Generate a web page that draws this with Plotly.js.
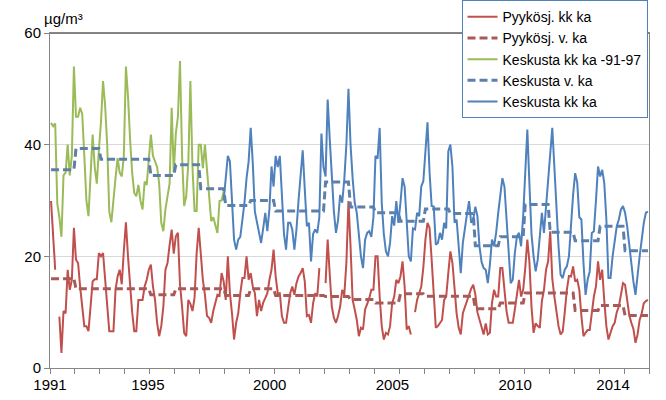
<!DOCTYPE html>
<html><head><meta charset="utf-8">
<script src="https://cdn.plot.ly/plotly-3.0.1.min.js"></script>
<style>html,body{margin:0;padding:0;background:#fff;}#chart{width:666px;height:400px;}</style>
</head><body><div id="chart"></div>
<script>
const firstYear = 1991;
const years = [1991,1992,1993,1994,1995,1996,1997,1998,1999,2000,2001,2002,2003,2004,2005,2006,2007,2008,2009,2010,2011,2012,2013,2014];
const pyykosjAnnual = [16.0,14.2,14.2,14.2,13.1,14.2,14.2,13.0,14.2,13.0,13.0,12.8,12.25,11.65,13.3,12.85,12.85,10.6,11.65,13.45,13.45,10.3,11.2,9.4];
const keskustaAnnual = [35.5,39.3,37.4,37.4,34.5,36.4,32.1,29.1,30.0,28.1,28.1,33.3,28.85,27.8,26.3,28.5,27.65,21.9,23.5,29.3,24.3,22.8,25.4,21.0];

// monthly means, index 0 = Jan 1991
const pyykosjMonthly = [
29.9,23.8,17.6,null,9.2,2.7,10.2,9.8,17.6,14.0,
15.8,25.1,19.4,18.8,14.5,11,7.5,7.5,6.6,11,
15.5,15.9,15.9,20.6,20,20.6,15.8,10.5,6.6,6.6,
6.6,14,16.4,17.6,15,21,26.1,20,14.6,10,
6.6,6.6,12.2,12.2,12.2,14.6,15.8,17.6,18.5,14.6,
12.2,8.1,5.7,7.5,11,17.6,18.8,22,24.8,20.5,
23.6,24.2,15,11,6.3,5.7,12.2,11.5,10.2,12.6,
20.5,25.1,20,15.8,13.1,9.3,9,8.1,10.2,11.7,
13.1,12.9,17,15.5,12.2,20,13.4,9.8,5.1,8.1,
9.8,13.4,16.1,16.1,20,15.8,17,14.6,13.4,9.3,
12.2,10.2,11.7,12.5,13.4,15.8,17.6,21.2,16.4,13.4,
13.4,9.3,8.1,8.1,11,13.4,14.6,13.1,15.2,16.4,
17,17.9,15.5,9.3,9.5,8.1,11.6,13.4,12.8,17.9,
null,null,15.2,23,16.8,11,9,8.1,9.3,11,
14,13.1,18.8,29.9,21.8,12.2,10.5,8.6,5.7,7.2,
6.9,10.5,11.5,12.5,14,14,20,20,12.8,7.5,
5.1,6.3,6,7.5,11.6,12.8,15.8,15.2,16.4,19.1,
14.6,6.9,7.5,6,null,10,12.2,13.4,14.6,18,
23,26,25.1,19.4,13,7.2,7.5,8.1,8.6,12.2,
12.8,17,20.9,18.8,14,9.8,7.2,6,9.8,11,
12.2,13.4,14.2,14.9,13.2,10,8.6,7,6,8,
6,6.3,11.6,14,12.8,12.8,17.9,17.9,13.4,10.2,
8.1,8.1,8.1,10.5,12.8,15.8,12.8,14,17.9,23,
19,11,6.3,8,7.5,7.2,12,14,17.6,19.1,
24.5,16,12.8,9.8,7.5,6,6.5,10,14,16.5,
16.4,18.2,15.5,15.8,14,9.3,5.7,6.3,6.8,6.8,
9.8,12.8,14.6,19.1,15.8,17.6,12,7.5,5.1,6.3,
7.5,8.1,10,11,13.4,15.2,14.9,12.2,9.5,8.1,
7,4.5,6,8.6,9.8,11.6,12,12.2];

const keskustaOldMonthly = [
43.9,43.3,43.8,29.5,27,23.5,34.5,35,40,34.5,
38,54,45,45,46.6,45.5,38,30,27.2,34,
41.8,36,33,39,44,51.4,47,40,28,26.1,
29.5,34,37.6,35,34.3,38,54,48.7,41,35,
31.4,30.75,32.8,30,28.4,33.4,32.8,37.3,41.8,38,
37,36,33,26,24.5,28.4,30.75,33,46.6,35,
42,45,55,38,29,30.75,36.7,51.4,36,28.1,
28.1,40,40,35.8,40,34.9,29.6,26.3,27,25.5,
24.2,29.9,30,31.6];

const keskustaStartMonth = 83;
const keskustaMonthly = [
30,34.5,38,37,29,23,21.2,
23,23.5,26.6,29.6,34,37,43,36.7,28,26,
24,22.4,25,27.8,24.5,28.5,36.1,32.5,38,36,
38,31,24,21.2,26,26,24.8,21.2,24.8,30,
34,39,32,25.4,26,19.1,24,24.8,24.2,27,
42,36,34.3,48.1,41,34,28,24.2,26.5,31,
29.6,33.8,40,50,40,34,29.6,27.8,23.3,20,
17.9,23,24.2,24.5,23.5,27,38,37.5,43,29.6,
24,20.9,20,22.4,27.2,25.5,29.9,26,29.6,34,
32.5,27,20,19.1,25,24.8,27.8,27.2,32.5,33.5,
38.2,44,35,29,28.9,22.1,22.4,24.2,23,26,
25,38.8,40,36,26,26.6,21.8,17,22.4,25.4,
27.6,29.9,26,26.6,28.9,27.2,21.8,19,17.9,17.6,
15.2,18.5,23,21.8,24.2,27.8,30.75,34,32.5,26,
20,15.2,15.8,20.6,23.6,24.2,21.8,27.2,35,42.7,
33,24,20,17.3,19.4,24.2,27.8,24.2,29,33,
38,43,36,28.3,21.8,16.7,16.1,17.6,18.2,20,
26.6,31,34.9,33.2,27,26.6,18.8,13.1,15.8,17.3,
24.2,24.5,30,36.1,34.3,35.5,33.1,26.6,16.1,16.1,
20,23,25.4,26.6,28.4,29,27.8,25.4,21.8,18.2,
15.5,13.1,17,20,23,26,27.8,28];

const seriesNames = ['Pyykösj. kk ka','Pyykösj. v. ka','Keskusta kk ka -91-97','Keskusta v. ka','Keskusta kk ka'];
const tickLabels = ['1991','1995','2000','2005','2010','2014'];

function monthX(i){ return firstYear + (i + 0.5) / 12; }
function monthlyXs(start, n){ const a=[]; for(let i=0;i<n;i++) a.push(monthX(start+i)); return a; }
function annualToMonthly(vals){
  const xs=[], ys=[];
  vals.forEach((v,k)=>{ for(let j=0;j<12;j++){ xs.push(monthX((years[k]-firstYear)*12+j)); ys.push(v);} });
  return {xs, ys};
}
const pa = annualToMonthly(pyykosjAnnual);
const ka = annualToMonthly(keskustaAnnual);

const traces = [
 {x: monthlyXs(0, pyykosjMonthly.length), y: pyykosjMonthly, name: seriesNames[0], mode:'lines', line:{color:'#c0504d', width:2}, connectgaps:false},
 {x: pa.xs, y: pa.ys, name: seriesNames[1], mode:'lines', line:{color:'#a85a58', width:3, dash:'8px,4px'}},
 {x: monthlyXs(0, keskustaOldMonthly.length), y: keskustaOldMonthly, name: seriesNames[2], mode:'lines', line:{color:'#9bbb59', width:2}},
 {x: ka.xs, y: ka.ys, name: seriesNames[3], mode:'lines', line:{color:'#5f7fab', width:3, dash:'8px,4px'}},
 {x: monthlyXs(keskustaStartMonth, keskustaMonthly.length), y: keskustaMonthly, name: seriesNames[4], mode:'lines', line:{color:'#4f81bd', width:2}}
];
traces.forEach(t=>{ t.hoverinfo='skip'; });

const layout = {
  width:666, height:400,
  margin:{l:50, r:17, t:33, b:32, autoexpand:false},
  paper_bgcolor:'#ffffff', plot_bgcolor:'#ffffff',
  font:{family:'"Liberation Sans", Arial, sans-serif', size:15, color:'#000'},
  xaxis:{
    range:[1991, 2015], tickmode:'array',
    tickvals:[1991.0, 1994.92, 1999.8, 2004.72, 2009.64, 2013.56],
    ticktext: tickLabels, ticks:'', ticklen:0, ticklabelstandoff:3,
    showgrid:false, zeroline:false, showline:true, linecolor:'#868686', linewidth:1, mirror:true,
    tickfont:{size:15},
    minor:{tickmode:'linear', tick0:1991, dtick:1, ticks:'outside', ticklen:5, tickcolor:'#868686', tickwidth:1, showgrid:false}
  },
  yaxis:{
    range:[0,60], tickmode:'array', tickvals:[0,20,40,60], ticks:'outside', ticklen:5, tickcolor:'#868686',
    showgrid:true, gridcolor:'#d9d9d9', gridwidth:1, showline:true, linecolor:'#868686', linewidth:1, mirror:true, zeroline:false,
    tickfont:{size:15}
  },
  shapes:[{type:'line', xref:'paper', yref:'y', x0:0, x1:1, y0:60, y1:60, line:{color:'#000000', width:1}}],
  annotations:[{text:'µg/m³', xref:'paper', yref:'paper', x:-0.0134, y:1.042, xanchor:'left', yanchor:'middle', showarrow:false, font:{size:15}}],
  showlegend:true,
  legend:{x:0.687, y:1.098, xanchor:'left', yanchor:'top', bgcolor:'#ffffff', bordercolor:'#4f81bd', borderwidth:1,
    font:{size:14}, itemwidth:30}
};

Plotly.newPlot('chart', traces, layout, {staticPlot:true, displayModeBar:false});
</script>
</body></html>
